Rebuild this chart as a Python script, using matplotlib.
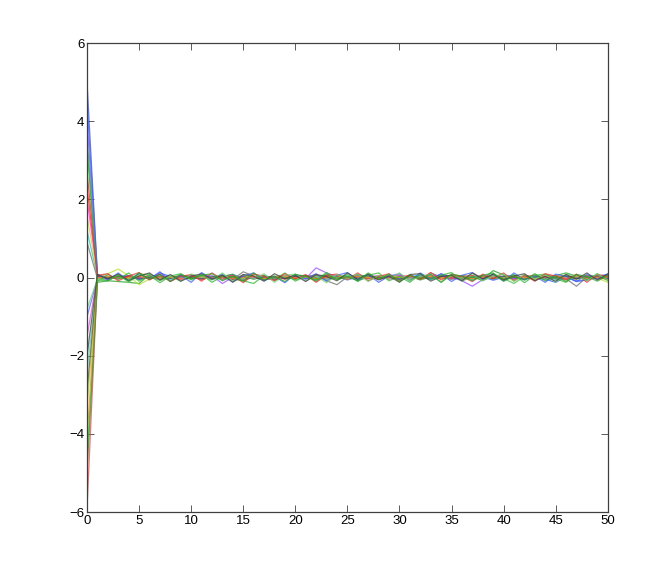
import matplotlib
matplotlib.use("Agg")
import numpy as np
import matplotlib.pyplot as plt

plt.rcParams['font.family'] = ['Liberation Sans', 'DejaVu Sans']

x = np.arange(0, 51)

# value at x=0 for each trace
starts = [5.0, 3.3, 2.7, 1.2, 2.0, 1.6, 0.9, 4.0,
          -1.0, -4.6, -5.9, -2.4, -1.5, -3.3, -2.9, -4.1,
          4.5, 3.6, 2.3, -0.8, -2.0, -5.0]

colors = ["#3050ff", "#20a020", "#ff2020", "#20c8c8", "#ff30ff", "#b8e030", "#707070", "#9a50ff",
          "#5070ff", "#40c040", "#ff4040", "#50d8b0", "#e050e0", "#98d030", "#505050", "#ff8820",
          "#4060f0", "#30b830", "#e83030", "#70d070", "#404040", "#28a028"]

# values at x=1..50
s1 = [0.05, 0.02, -0.03, 0.04, 0.01, -0.02, 0.12, 0.03, -0.04, 0.06,
      0.02, -0.05, 0.03, 0.08, -0.02, 0.01, 0.04, -0.06, 0.02, 0.05,
      -0.03, 0.02, 0.06, -0.02, 0.03, -0.07, 0.01, 0.04, 0.02, -0.03,
      0.05, 0.01, -0.04, 0.10, 0.02, -0.03, 0.04, 0.01, -0.05, 0.03,
      0.06, -0.02, 0.01, -0.04, -0.12, 0.02, -0.10, -0.06, 0.03, 0.08]
s2 = [-0.05, -0.08, -0.10, -0.12, -0.15, 0.08, -0.06, 0.02, -0.03, 0.04,
      0.01, -0.02, 0.05, -0.04, -0.08, 0.02, 0.03, -0.01, 0.04, -0.02,
      0.03, 0.06, -0.04, 0.01, -0.02, 0.08, 0.02, -0.03, 0.05, -0.01,
      0.04, -0.06, 0.02, 0.01, -0.03, 0.05, 0.02, -0.05, 0.18, 0.07,
      -0.02, 0.03, -0.04, 0.02, 0.05, 0.12, 0.04, -0.02, 0.01, 0.04]
s3 = [0.02, 0.01, -0.02, 0.03, -0.01, 0.02, -0.04, 0.01, 0.03, -0.02,
      0.04, -0.03, 0.02, -0.05, 0.01, 0.03, -0.02, -0.06, 0.02, 0.04,
      -0.01, 0.02, -0.03, 0.05, 0.01, -0.02, 0.03, -0.04, 0.02, 0.06,
      -0.01, 0.03, -0.02, 0.04, 0.02, -0.03, 0.05, 0.01, -0.02, 0.03,
      -0.04, 0.02, 0.06, -0.03, 0.01, 0.03, -0.02, 0.04, 0.01, -0.05]
s4 = [0.04, -0.02, 0.03, 0.01, -0.04, 0.02, 0.05, -0.03, 0.01, 0.06,
      -0.02, 0.03, -0.01, 0.04, -0.03, 0.02, -0.05, 0.01, 0.03, -0.02,
      0.04, -0.06, 0.02, 0.01, -0.03, 0.05, -0.02, 0.03, 0.01, -0.04,
      0.02, 0.06, -0.01, 0.03, -0.02, 0.04, -0.05, 0.02, 0.01, -0.03,
      0.05, -0.02, 0.03, 0.01, -0.04, 0.02, 0.04, -0.03, 0.02, 0.01]
s5 = [0.06, 0.03, -0.02, 0.05, 0.01, -0.03, 0.04, 0.02, -0.05, 0.03,
      0.01, -0.02, 0.04, -0.03, 0.06, 0.01, -0.04, 0.02, 0.05, -0.01,
      0.03, 0.07, -0.02, 0.04, 0.01, -0.03, 0.02, 0.05, -0.04, 0.01,
      0.03, -0.02, 0.06, 0.02, -0.03, 0.04, 0.01, -0.05, 0.03, 0.02,
      0.05, -0.01, 0.03, -0.03, 0.04, 0.02, -0.02, 0.01, 0.05, 0.02]
s6 = [0.03, 0.10, 0.22, 0.05, -0.18, -0.04, 0.03, 0.01, -0.02, 0.04,
      0.02, -0.03, 0.05, 0.01, -0.04, 0.03, 0.02, -0.02, 0.04, -0.01,
      0.02, -0.05, 0.03, 0.01, -0.02, 0.04, -0.03, 0.02, 0.05, -0.01,
      0.03, -0.04, 0.02, 0.01, -0.03, 0.04, 0.02, -0.02, 0.03, -0.05,
      0.01, 0.04, -0.02, 0.03, 0.01, -0.03, 0.02, 0.04, -0.01, -0.12]
s7 = [-0.02, 0.01, 0.03, -0.04, 0.02, -0.01, 0.04, -0.03, 0.02, 0.05,
      -0.02, 0.01, 0.03, -0.05, 0.15, 0.04, -0.03, 0.01, 0.02, -0.04,
      0.03, 0.06, -0.08, -0.18, 0.02, 0.05, -0.03, 0.01, 0.04, -0.02,
      0.03, -0.05, 0.12, 0.02, -0.04, 0.01, 0.03, -0.06, 0.02, 0.04,
      -0.03, 0.05, 0.01, -0.02, 0.04, -0.03, -0.22, 0.02, 0.06, 0.01]
s8 = [0.04, -0.02, 0.03, 0.05, -0.03, 0.01, -0.06, 0.02, 0.04, -0.01,
      0.03, 0.05, -0.15, 0.01, -0.04, 0.03, 0.02, -0.03, 0.04, 0.01,
      -0.02, 0.25, 0.12, 0.03, -0.02, 0.04, 0.01, -0.03, 0.02, 0.05,
      -0.01, 0.03, -0.04, 0.02, 0.01, -0.08, -0.22, -0.05, 0.03, 0.02,
      -0.03, 0.04, 0.01, 0.06, 0.02, -0.04, 0.03, -0.02, 0.01, 0.03]
s9 = [-0.03, 0.02, -0.01, 0.04, -0.05, 0.02, 0.08, -0.02, 0.03, 0.01,
      -0.04, 0.02, 0.05, -0.01, 0.03, -0.02, 0.04, 0.01, -0.03, 0.02,
      0.05, -0.04, 0.01, 0.03, -0.06, 0.02, 0.04, -0.01, 0.03, -0.02,
      0.01, 0.05, -0.03, 0.02, -0.01, 0.04, -0.02, 0.03, -0.07, 0.01,
      0.03, -0.02, 0.05, 0.01, -0.03, 0.02, -0.08, -0.06, 0.04, 0.02]
s10 = [-0.06, -0.03, 0.02, -0.04, 0.10, 0.06, -0.02, 0.03, 0.01, -0.03,
       0.04, -0.02, 0.01, 0.05, -0.03, 0.02, -0.01, 0.04, 0.02, -0.05,
       0.03, 0.01, -0.02, 0.04, 0.02, -0.03, 0.05, -0.01, 0.02, 0.03,
       -0.04, 0.01, 0.03, -0.02, 0.05, 0.02, -0.03, 0.01, 0.04, -0.02,
       -0.15, 0.03, 0.01, -0.04, 0.02, 0.05, -0.02, 0.03, 0.01, 0.02]
s11 = [0.01, -0.02, 0.03, -0.01, 0.02, 0.04, -0.03, 0.01, -0.02, 0.03,
       -0.05, 0.02, 0.01, -0.03, 0.04, -0.01, 0.02, 0.03, -0.04, 0.01,
       0.02, -0.02, 0.05, -0.03, 0.01, 0.03, -0.02, 0.04, -0.01, 0.02,
       0.06, -0.03, 0.01, 0.02, -0.02, 0.03, 0.05, -0.01, 0.02, -0.04,
       0.03, 0.01, 0.04, -0.02, 0.02, -0.01, 0.03, 0.05, -0.02, 0.01]
s12 = [-0.02, 0.04, -0.03, 0.01, 0.03, -0.02, 0.05, -0.04, 0.02, 0.01,
       -0.03, 0.04, -0.06, 0.02, 0.01, -0.02, 0.03, -0.01, 0.04, -0.03,
       0.02, 0.01, -0.04, 0.03, 0.05, -0.02, 0.01, -0.03, 0.04, 0.02,
       -0.01, 0.03, -0.05, 0.02, 0.04, -0.02, 0.01, 0.03, -0.03, 0.02,
       0.04, -0.01, 0.02, -0.04, 0.03, 0.01, -0.02, 0.02, 0.04, -0.03]
s13 = [0.02, -0.04, 0.01, 0.03, -0.02, 0.05, -0.01, 0.02, -0.03, 0.04,
       0.01, -0.02, 0.03, 0.06, -0.04, 0.01, 0.02, -0.03, 0.05, -0.01,
       0.03, 0.02, -0.02, 0.04, -0.05, 0.01, 0.03, -0.02, 0.02, 0.05,
       -0.03, 0.01, 0.04, -0.01, 0.02, -0.04, 0.03, 0.01, 0.05, -0.02,
       0.02, -0.03, 0.04, 0.01, -0.02, 0.03, 0.02, -0.04, 0.01, 0.03]
s14 = [-0.04, 0.01, 0.03, -0.02, 0.04, 0.02, -0.03, 0.01, 0.05, -0.01,
       0.02, -0.04, 0.03, 0.01, -0.02, 0.04, -0.03, 0.02, 0.01, -0.02,
       0.03, 0.05, -0.01, 0.02, -0.04, 0.03, 0.01, -0.02, 0.04, 0.02,
       -0.03, 0.01, 0.03, -0.01, 0.05, -0.02, 0.02, 0.04, -0.03, 0.01,
       0.02, -0.02, 0.03, 0.05, -0.01, 0.02, -0.04, 0.03, 0.01, 0.05]
s15 = [0.03, -0.01, 0.02, 0.04, -0.03, 0.01, 0.02, -0.02, 0.05, 0.01,
       -0.03, 0.02, 0.04, -0.01, 0.03, -0.04, 0.02, 0.01, -0.02, 0.03,
       0.05, -0.02, 0.01, 0.03, -0.03, 0.02, 0.04, -0.01, 0.02, -0.05,
       0.03, 0.01, -0.02, 0.04, 0.02, -0.03, 0.01, 0.05, -0.02, 0.03,
       0.01, -0.04, 0.02, 0.03, -0.01, 0.04, -0.02, 0.01, 0.03, -0.02]
s16 = [-0.01, 0.03, -0.02, 0.01, 0.04, -0.03, 0.02, 0.01, -0.04, 0.03,
       0.02, -0.01, 0.05, -0.02, 0.01, 0.03, -0.03, 0.02, 0.04, -0.01,
       0.02, -0.03, 0.01, 0.05, -0.02, 0.03, 0.01, -0.04, 0.02, 0.01,
       0.03, -0.02, 0.04, -0.01, 0.02, 0.03, -0.03, 0.01, 0.02, -0.02,
       0.04, 0.01, -0.03, 0.02, 0.05, -0.01, 0.03, -0.02, 0.01, 0.02]
s17 = [0.09, -0.06, 0.12, -0.08, 0.10, -0.04, 0.15, -0.09, 0.06, -0.12,
       0.13, -0.03, 0.09, -0.10, 0.04, 0.12, -0.08, 0.03, -0.13, 0.09,
       -0.04, 0.10, -0.09, 0.06, 0.13, -0.06, 0.08, -0.12, 0.04, 0.10,
       -0.08, 0.12, -0.03, 0.09, -0.10, 0.06, 0.13, -0.04, 0.08, -0.09,
       0.12, -0.06, 0.04, -0.12, 0.09, 0.03, -0.10, 0.08, -0.04, 0.10]
s18 = [-0.10, 0.08, -0.04, 0.12, -0.09, 0.06, -0.13, 0.04, 0.10, -0.06,
       0.08, -0.12, 0.03, 0.09, -0.08, -0.15, 0.06, -0.04, 0.12, -0.09,
       0.04, -0.06, 0.13, -0.03, 0.08, -0.10, 0.06, 0.12, -0.08, 0.03,
       -0.12, 0.09, -0.04, 0.06, 0.13, -0.09, 0.03, -0.08, 0.10, -0.04,
       0.08, -0.13, 0.06, 0.09, -0.03, -0.12, 0.08, -0.06, 0.10, -0.08]
s19 = [0.06, 0.10, -0.08, 0.04, 0.13, -0.06, 0.09, -0.10, 0.03, 0.08,
       -0.09, 0.12, -0.04, 0.06, -0.13, 0.09, 0.04, -0.08, 0.10, -0.03,
       0.08, -0.12, 0.06, 0.09, -0.04, 0.12, -0.08, 0.03, 0.10, -0.09,
       0.06, -0.04, 0.13, -0.06, 0.08, 0.03, -0.10, 0.09, -0.03, 0.12,
       -0.08, 0.06, -0.09, 0.10, 0.04, -0.06, 0.09, -0.12, 0.08, 0.04]
s20 = [-0.04, -0.09, 0.08, -0.12, 0.06, 0.10, -0.08, 0.04, -0.10, 0.09,
       0.03, -0.06, 0.12, -0.09, 0.08, -0.04, 0.10, -0.12, 0.06, 0.09,
       -0.08, 0.04, -0.13, 0.08, -0.03, 0.09, -0.10, 0.06, -0.04, 0.12,
       -0.08, 0.03, 0.09, -0.12, 0.06, -0.04, 0.10, -0.08, 0.04, 0.09,
       -0.10, 0.08, -0.03, 0.06, -0.12, 0.09, 0.04, -0.08, 0.10, -0.06]
s21 = [0.08, -0.03, 0.09, -0.08, 0.04, 0.12, -0.06, 0.08, -0.09, 0.03,
       0.10, -0.04, 0.06, -0.12, 0.08, 0.04, -0.09, 0.10, -0.03, 0.06,
       -0.10, 0.08, 0.03, -0.08, 0.12, -0.04, 0.09, -0.06, 0.04, -0.12,
       0.08, 0.10, -0.09, 0.03, 0.06, -0.08, 0.12, -0.03, 0.09, -0.06,
       0.04, 0.10, -0.08, 0.03, -0.09, 0.08, -0.04, 0.12, -0.06, 0.09]
s22 = [-0.12, -0.08, 0.06, -0.09, 0.12, -0.04, 0.08, -0.10, 0.09, -0.03,
       0.06, 0.10, -0.08, 0.04, -0.09, 0.12, -0.06, 0.03, -0.10, 0.08,
       0.04, -0.09, 0.10, -0.06, 0.03, -0.08, 0.12, -0.04, 0.09, -0.10,
       0.06, -0.03, 0.08, -0.12, 0.09, 0.04, -0.08, 0.06, 0.12, -0.09,
       0.03, -0.06, 0.10, -0.08, 0.04, -0.10, 0.08, 0.03, -0.09, 0.06]

tails = [s1, s2, s3, s4, s5, s6, s7, s8, s9, s10, s11, s12, s13, s14, s15, s16,
         s17, s18, s19, s20, s21, s22]

fig = plt.figure(figsize=(6.71, 5.76), dpi=100)
ax = fig.add_axes([0.1297, 0.111, 0.776, 0.814])

for y0, tail, c in zip(starts, tails, colors):
    ax.plot(x, [y0] + tail, color=c, lw=0.9, alpha=0.75)

ax.set_xlim(0, 50)
ax.set_ylim(-6, 6)
ax.set_xticks(range(0, 51, 5))
ax.set_yticks(range(-6, 7, 2))
ax.tick_params(direction="in", length=5, width=0.6, color="#404040",
               top=True, right=True, labelsize=9.5, pad=2)
for sp in ax.spines.values():
    sp.set_color("#404040")
    sp.set_linewidth(0.9)

fig.savefig("out.png", dpi=100)
